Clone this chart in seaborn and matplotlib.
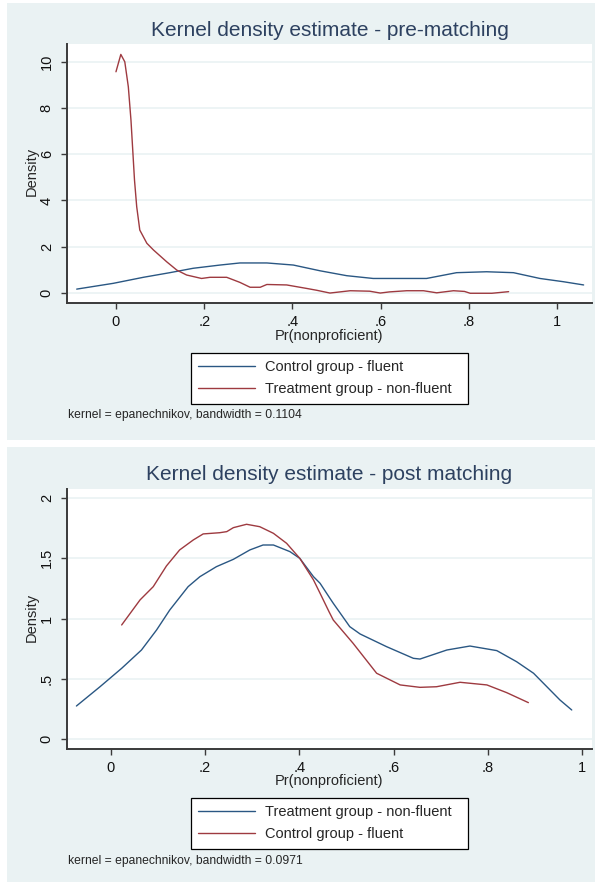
import numpy as np
import pandas as pd
import seaborn as sns
import matplotlib.pyplot as plt
from matplotlib.patches import Rectangle

# Panel 1 - pre-matching
pre_control_x = [-0.089, -0.006, 0.062, 0.122, 0.175, 0.236, 0.281, 0.342, 0.402, 0.463,
                 0.523, 0.583, 0.704, 0.772, 0.84, 0.901, 0.961, 1.014, 1.06]
pre_control_y = [0.17, 0.42, 0.68, 0.88, 1.07, 1.21, 1.3, 1.3, 1.21, 0.96,
                 0.75, 0.63, 0.63, 0.88, 0.92, 0.88, 0.63, 0.49, 0.35]
pre_treat_x = [0.0, 0.011, 0.02, 0.028, 0.034, 0.038, 0.042, 0.047, 0.054, 0.07,
               0.085, 0.115, 0.138, 0.16, 0.194, 0.213, 0.251, 0.281, 0.304, 0.327,
               0.342, 0.387, 0.432, 0.455, 0.485, 0.531, 0.575, 0.599, 0.62, 0.659,
               0.697, 0.727, 0.765, 0.79, 0.803, 0.852, 0.89]
pre_treat_y = [9.56, 10.31, 9.99, 8.91, 7.47, 6.18, 4.88, 3.73, 2.72, 2.15,
               1.86, 1.35, 0.99, 0.78, 0.63, 0.68, 0.68, 0.46, 0.25, 0.25,
               0.37, 0.35, 0.2, 0.12, 0.0, 0.1, 0.08, 0.0, 0.05, 0.1,
               0.1, 0.01, 0.1, 0.07, -0.01, -0.01, 0.06]

# Panel 2 - post matching
post_treat_x = [-0.073, -0.023, 0.023, 0.065, 0.097, 0.125, 0.164, 0.189, 0.224, 0.26,
                0.295, 0.323, 0.345, 0.38, 0.401, 0.43, 0.444, 0.465, 0.472, 0.507,
                0.529, 0.585, 0.642, 0.656, 0.713, 0.762, 0.819, 0.861, 0.897, 0.953, 0.978]
post_treat_y = [0.274, 0.434, 0.587, 0.739, 0.905, 1.071, 1.265, 1.348, 1.431, 1.492,
                1.57, 1.611, 1.611, 1.556, 1.5, 1.348, 1.293, 1.168, 1.127, 0.933,
                0.872, 0.767, 0.67, 0.664, 0.739, 0.772, 0.734, 0.642, 0.546, 0.324, 0.241]
post_control_x = [0.023, 0.062, 0.09, 0.118, 0.146, 0.175, 0.196, 0.231, 0.246, 0.26,
                  0.288, 0.316, 0.345, 0.373, 0.401, 0.43, 0.444, 0.463, 0.472, 0.514,
                  0.564, 0.614, 0.656, 0.691, 0.741, 0.798, 0.84, 0.886]
post_control_y = [0.947, 1.155, 1.265, 1.437, 1.57, 1.653, 1.703, 1.713, 1.722, 1.755,
                  1.783, 1.763, 1.708, 1.625, 1.5, 1.321, 1.21, 1.057, 0.988, 0.795,
                  0.546, 0.449, 0.429, 0.434, 0.471, 0.449, 0.385, 0.302]

x_ticks = [0, 0.2, 0.4, 0.6, 0.8, 1]
x_tick_labels = ['0', '.2', '.4', '.6', '.8', '1']
pre_y_ticks = [0, 2, 4, 6, 8, 10]
pre_y_tick_labels = ['0', '2', '4', '6', '8', '10']
post_y_ticks = [0, 0.5, 1, 1.5, 2]
post_y_tick_labels = ['0', '.5', '1', '1.5', '2']

BG = '#eaf2f3'
BLUE = '#2a5783'
RED = '#9e3a40'
TITLE_COL = '#2d4160'
AXIS_COL = '#3a3a3a'

sns.set_style('white')
plt.rcParams['font.family'] = ['Liberation Sans', 'DejaVu Sans']

W, H = 595, 882
fig = plt.figure(figsize=(W / 100, H / 100), dpi=100)
fig.patch.set_facecolor('white')

# light Stata-like graph regions (kept behind the axes)
fig.patches.append(Rectangle((7 / W, 1 - 440 / H), 1 - 7 / W, 437 / H,
                             transform=fig.transFigure, facecolor=BG, edgecolor='none', zorder=-5))
fig.patches.append(Rectangle((7 / W, 0), 1 - 7 / W, 1 - 447 / H,
                             transform=fig.transFigure, facecolor=BG, edgecolor='none', zorder=-5))


def px_box(left, top, right, bottom):
    return [left / W, 1 - bottom / H, (right - left) / W, (bottom - top) / H]


def draw_panel(box, series, xlim, ylim, yticks, yticklabels, title, note, ys):
    ax = fig.add_axes(px_box(*box))
    ax.set_facecolor('white')
    for xs, yv, col, lab in series:
        df = pd.DataFrame({'x': xs, 'y': yv})
        sns.lineplot(data=df, x='x', y='y', ax=ax, color=col, linewidth=1.0,
                     estimator=None, label=lab)
    ax.set_xlim(*xlim)
    ax.set_ylim(*ylim)
    ax.set_xticks(x_ticks)
    ax.set_xticklabels(x_tick_labels)
    ax.set_yticks(yticks)
    ax.set_yticklabels(yticklabels, rotation=90, va='center')
    ax.set_xlabel('')
    ax.set_ylabel('')
    ax.grid(axis='y', color=BG, linewidth=1.2)
    ax.set_axisbelow(True)
    for s in ['top', 'right']:
        ax.spines[s].set_visible(False)
    for s in ['left', 'bottom']:
        ax.spines[s].set_color(AXIS_COL)
        ax.spines[s].set_linewidth(1.4)
    ax.tick_params(axis='both', direction='out', length=4.5, width=1.0, color=AXIS_COL,
                   labelsize=10.5, labelcolor='#111111', left=True, bottom=True)
    ax.tick_params(axis='y', pad=5)
    ax.tick_params(axis='x', pad=4)

    # legend below the plot region, fixed width box
    ax.get_legend().remove()
    handles, labels = ax.get_legend_handles_labels()
    t_title, t_xlab, leg_top, leg_bot, t_note = ys
    leg = fig.legend(handles, labels, loc='upper left', mode='expand',
                     bbox_to_anchor=(191 / W, 1 - leg_bot / H, (468 - 191) / W, (leg_bot - leg_top) / H),
                     bbox_transform=fig.transFigure, frameon=True, fancybox=False,
                     edgecolor='black', framealpha=1, fontsize=10.5, handlelength=3.9,
                     handletextpad=0.7, labelspacing=0.55, borderpad=0.5,
                     borderaxespad=0)
    leg.get_frame().set_linewidth(0.9)
    for h in leg.get_lines():
        h.set_linewidth(1.0)

    cx = (box[0] + box[2]) / 2 / W
    fig.text(cx, 1 - t_title / H, title, ha='center', va='center', fontsize=15, color=TITLE_COL)
    fig.text(cx, 1 - t_xlab / H, 'Pr(nonproficient)', ha='center', va='center', fontsize=10.5)
    fig.text(32 / W, 1 - (box[1] + box[3] - 4) / 2 / H, 'Density', rotation=90,
             ha='center', va='center', fontsize=10.5)
    fig.text(68 / W, 1 - t_note / H, note, ha='left', va='center', fontsize=8.7)
    return ax


draw_panel((67, 44, 592, 303),
           [(pre_control_x, pre_control_y, BLUE, 'Control group - fluent'),
            (pre_treat_x, pre_treat_y, RED, 'Treatment group - non-fluent')],
           (-0.111, 1.079), (-0.43, 10.76), pre_y_ticks, pre_y_tick_labels,
           'Kernel density estimate - pre-matching',
           'kernel = epanechnikov, bandwidth = 0.1104',
           (30, 336, 353, 402, 415))

draw_panel((67, 489, 592, 749),
           [(post_treat_x, post_treat_y, BLUE, 'Treatment group - non-fluent'),
            (post_control_x, post_control_y, RED, 'Control group - fluent')],
           (-0.093, 1.021), (-0.083, 2.076), post_y_ticks, post_y_tick_labels,
           'Kernel density estimate - post matching',
           'kernel = epanechnikov, bandwidth = 0.0971',
           (475, 781, 798, 848, 861))

plt.savefig('out.png', dpi=100, facecolor=fig.get_facecolor())
